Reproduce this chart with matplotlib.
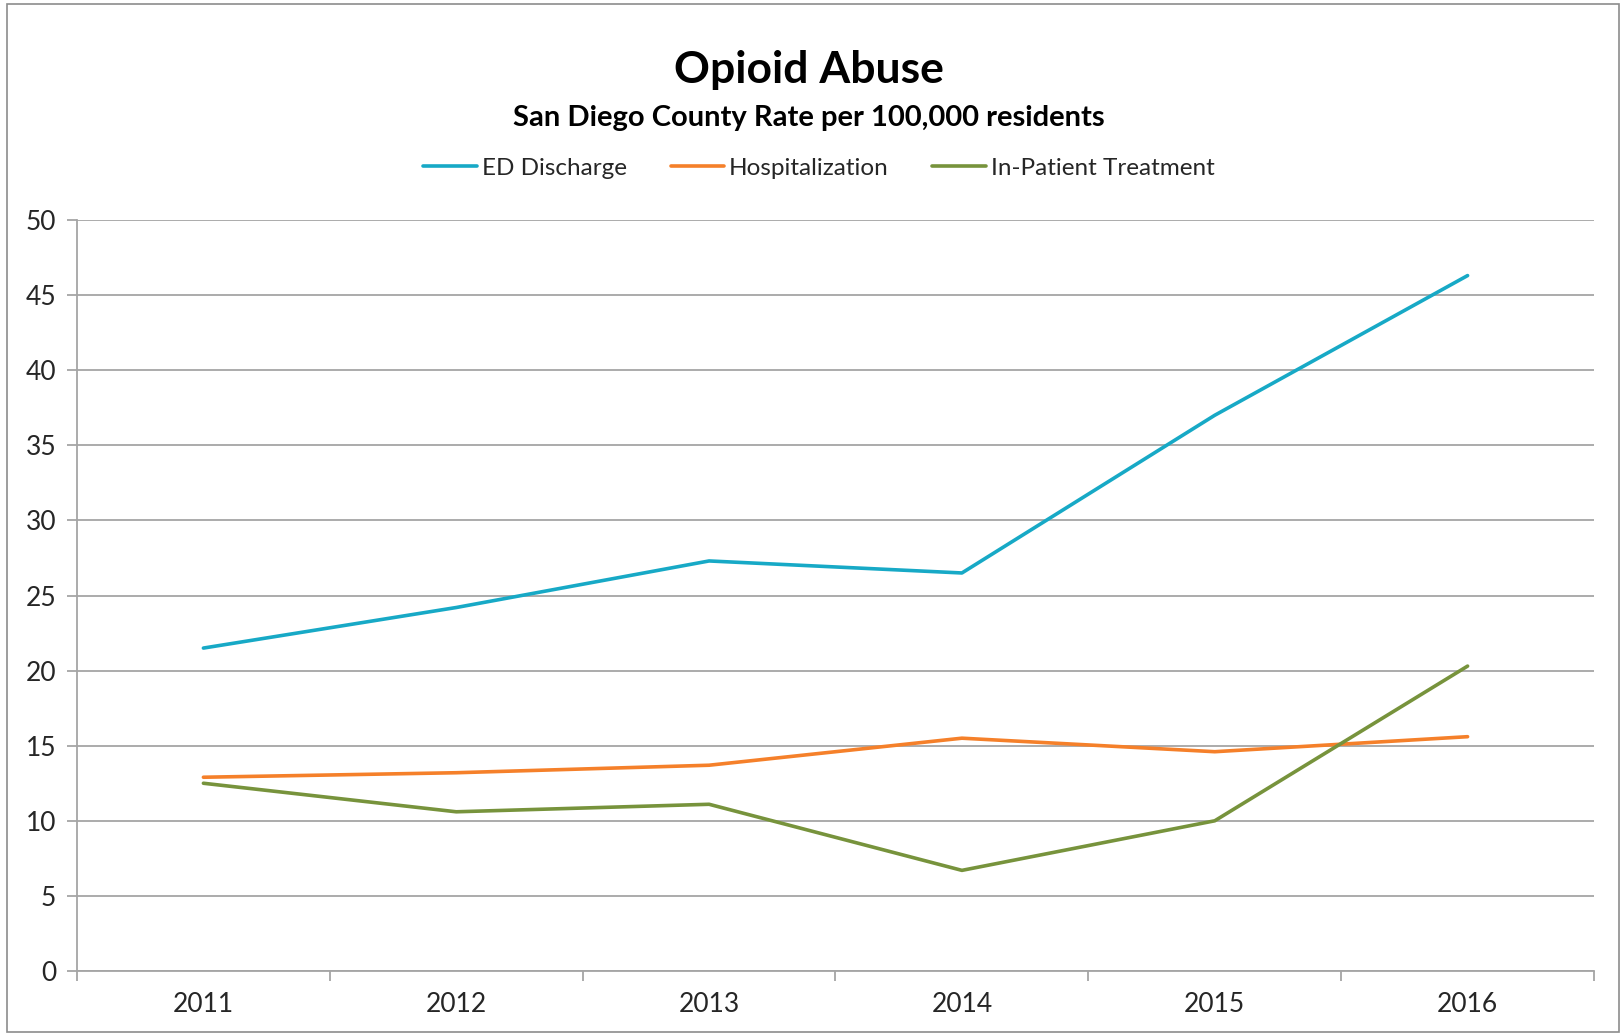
import matplotlib
matplotlib.use("Agg")
import matplotlib.pyplot as plt
from matplotlib.patches import Rectangle
import numpy as np

# Rates per 100,000 residents, San Diego County
years = ["2011", "2012", "2013", "2014", "2015", "2016"]
ed_discharge = [21.5, 24.2, 27.3, 26.5, 37.0, 46.3]
hospitalization = [12.9, 13.2, 13.7, 15.5, 14.6, 15.6]
inpatient_treatment = [12.5, 10.6, 11.1, 6.7, 10.0, 20.3]

series_names = ["ED Discharge", "Hospitalization", "In-Patient Treatment"]
series_colors = ["#17A9C6", "#F5802A", "#77933C"]
y_ticks = [0, 5, 10, 15, 20, 25, 30, 35, 40, 45, 50]

plt.rcParams["font.family"] = ["Lato", "DejaVu Sans"]

W, H = 1623, 1033
fig = plt.figure(figsize=(W / 100, H / 100), dpi=100)
fig.patch.set_facecolor("white")

# chart border
fig.patches.append(Rectangle((7 / W, 1 / H), (1619 - 7) / W, (1029 - 1) / H,
                             transform=fig.transFigure, fill=False,
                             edgecolor="#8C8C8C", linewidth=1.2))

left, right, top, bottom = 77, 1594, 220, 971
ax = fig.add_axes([left / W, (H - bottom) / H, (right - left) / W, (bottom - top) / H])

x = np.arange(len(years))
for vals, name, col in zip([ed_discharge, hospitalization, inpatient_treatment],
                           series_names, series_colors):
    ax.plot(x, vals, color=col, linewidth=2.6, label=name,
            solid_joinstyle="round", solid_capstyle="round", zorder=3)

ax.set_xlim(-0.5, len(years) - 0.5)
ax.set_ylim(0, 50)
ax.set_yticks(y_ticks)
ax.set_yticklabels([str(v) for v in y_ticks])
ax.set_xticks(x)
ax.set_xticklabels(years)
ax.set_xticks(np.arange(-0.5, len(years)), minor=True)

grid_col = "#A5A5A5"
ax.yaxis.grid(True, color=grid_col, linewidth=1.3, zorder=0)
ax.xaxis.grid(False)
ax.set_axisbelow(True)
for s in ["top", "right"]:
    ax.spines[s].set_visible(False)
ax.spines["left"].set_color(grid_col)
ax.spines["bottom"].set_color(grid_col)
ax.spines["left"].set_linewidth(1.3)
ax.spines["bottom"].set_linewidth(1.3)

ax.tick_params(axis="y", which="major", direction="out", length=7, width=1.3,
               color=grid_col, labelsize=19, labelcolor="#262626", pad=8)
ax.tick_params(axis="x", which="major", length=0, labelsize=19,
               labelcolor="#262626", pad=15)
ax.tick_params(axis="x", which="minor", direction="out", length=7, width=1.3,
               color=grid_col)

fig.text(809 / W, 1 - 70 / H, "Opioid Abuse", ha="center", va="center",
         fontsize=32, fontweight="bold", color="black")
fig.text(809 / W, 1 - 118 / H, "San Diego County Rate per 100,000 residents",
         ha="center", va="center", fontsize=21, fontweight="bold", color="black")

fig.legend(loc="center", bbox_to_anchor=(819 / W, 1 - 168 / H), ncol=3,
           frameon=False, fontsize=17.5, handlelength=2.2, handletextpad=0.2,
           columnspacing=1.8, labelcolor="#262626")

fig.savefig("out.png", dpi=100, facecolor="white")
